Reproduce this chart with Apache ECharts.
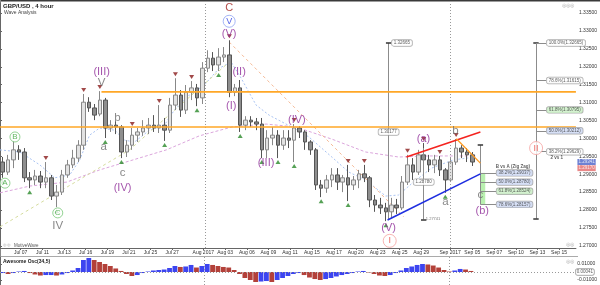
<!DOCTYPE html>
<html><head><meta charset="utf-8">
<script src="https://cdn.jsdelivr.net/npm/echarts@6/dist/echarts.min.js"></script>
<style>html,body{margin:0;padding:0;background:#fff}#c{width:600px;height:285px}</style>
</head><body><div id="c"></div>
<script>
// ---------- DATA ----------
// 12-hour slots (x = slot index); candle = [open, close, low, high]
const candles = [
[1.2934,1.2906,1.2890,1.2948],[1.2906,1.2940,1.2898,1.2954],[1.2940,1.2968,1.2917,1.2993],[1.2968,1.2962,1.2940,1.2981],
[1.2962,1.2890,1.2878,1.2973],[1.2890,1.2884,1.2861,1.2906],[1.2884,1.2895,1.2870,1.2912],[1.2895,1.2878,1.2861,1.2909],
[1.2878,1.2890,1.2861,1.2934],[1.2890,1.2839,1.2828,1.2898],[1.2839,1.2850,1.2808,1.2870],[1.2850,1.2898,1.2842,1.2912],
[1.2898,1.2926,1.2890,1.2940],[1.2926,1.2945,1.2917,1.2968],[1.2945,1.2981,1.2934,1.2995],[1.2981,1.3101,1.2968,1.3124],
[1.3101,1.3085,1.3074,1.3115],[1.3085,1.3065,1.3051,1.3096],[1.3068,1.3107,1.3062,1.3132],[1.3107,1.3029,1.3001,1.3113],
[1.3029,1.3037,1.3018,1.3051],[1.3037,1.3032,1.3012,1.3048],[1.3032,1.2962,1.2945,1.3037],[1.2962,1.2981,1.2948,1.2995],
[1.2981,1.3009,1.2968,1.3029],[1.3009,1.3018,1.2990,1.3029],[1.3018,1.3029,1.3007,1.3051],[1.3029,1.3037,1.3012,1.3057],
[1.3037,1.3029,1.3018,1.3065],[1.3029,1.3037,1.3015,1.3093],[1.3037,1.3023,1.2993,1.3057],[1.3023,1.3093,1.3015,1.3113],
[1.3093,1.3121,1.3079,1.3168],[1.3121,1.3079,1.3060,1.3135],[1.3079,1.3129,1.3068,1.3149],[1.3129,1.3141,1.3107,1.3160],
[1.3141,1.3113,1.3090,1.3152],[1.3113,1.3196,1.3096,1.3213],[1.3196,1.3224,1.3185,1.3246],[1.3224,1.3205,1.3188,1.3241],
[1.3205,1.3227,1.3188,1.3252],[1.3227,1.3233,1.3213,1.3255],[1.3233,1.3129,1.3115,1.3274],[1.3129,1.3141,1.3118,1.3152],
[1.3141,1.3037,1.3018,1.3163],[1.3037,1.3051,1.3023,1.3062],[1.3051,1.3046,1.3032,1.3062],[1.3046,1.3040,1.3023,1.3057],
[1.3040,1.2968,1.2945,1.3057],[1.2968,1.3001,1.2945,1.3023],[1.3001,1.3009,1.2981,1.3032],[1.3009,1.2981,1.2945,1.3023],
[1.2981,1.3001,1.2968,1.3023],[1.3001,1.2995,1.2973,1.3023],[1.2995,1.3029,1.2934,1.3040],[1.3029,1.3018,1.3001,1.3034],
[1.3018,1.2990,1.2968,1.3023],[1.2990,1.2968,1.2954,1.2995],[1.2968,1.2870,1.2856,1.2973],[1.2870,1.2861,1.2836,1.2884],
[1.2861,1.2884,1.2848,1.2898],[1.2884,1.2898,1.2864,1.2917],[1.2898,1.2878,1.2856,1.2917],[1.2878,1.2890,1.2850,1.2898],
[1.2890,1.2870,1.2825,1.2926],[1.2870,1.2884,1.2856,1.2895],[1.2884,1.2901,1.2861,1.2912],[1.2901,1.2890,1.2878,1.2926],
[1.2890,1.2828,1.2808,1.2895],[1.2828,1.2814,1.2795,1.2842],[1.2814,1.2806,1.2789,1.2834],[1.2806,1.2795,1.2769,1.2820],
[1.2795,1.2814,1.2778,1.2834],[1.2814,1.2806,1.2789,1.2831],[1.2806,1.2878,1.2800,1.2895],[1.2878,1.2926,1.2870,1.2954],
[1.2926,1.2906,1.2884,1.2945],[1.2906,1.2954,1.2898,1.2968],[1.2954,1.2940,1.2926,1.2987],[1.2940,1.2926,1.2906,1.2954],
[1.2926,1.2940,1.2903,1.2954],[1.2940,1.2912,1.2895,1.2951],[1.2912,1.2884,1.2848,1.2917],[1.2884,1.2934,1.2878,1.2945],
[1.2934,1.2973,1.2926,1.2998],[1.2973,1.2962,1.2945,1.2981],[1.2962,1.2954,1.2934,1.2973],[1.2954,1.2934,1.2923,1.2962]
];
const swingHighIdx = [8,15,18,24,29,32,35,42,54,64,67,75,78,81,84];
const swingLowIdx = [0,5,10,19,22,30,36,40,44,48,51,54,59,64,71,82];

const maFast = [[0,1.2968],[3.69,1.2962],[7.38,1.2926],[10.15,1.2890],[12.92,1.2898],[14.77,1.2940],[16.6,1.3009],[18.46,1.3029],
[21.23,1.3023],[23.08,1.2995],[24.92,1.2990],[27.69,1.3023],[30.46,1.3037],[32.3,1.3079],[35.08,1.3121],[37.85,1.3149],[40.6,1.3196],
[42.83,1.3213],[44.68,1.3168],[47.45,1.3093],[49.85,1.3065],[52.25,1.3046],[55.38,1.3021],[57.23,1.3004],[61.48,1.2948],[64.6,1.2906],
[67.75,1.2884],[71.45,1.2839],[73.85,1.2842],[76.6,1.2878],[79.94,1.2917],[84.0,1.2940],[88.06,1.2948]];
const maSlow = [[0,1.2848],[5.54,1.2867],[12.37,1.2878],[18.46,1.2912],[24.0,1.2937],[30.83,1.2968],[36.92,1.3007],[43.0,1.3032],
[49.3,1.3040],[54.83,1.3032],[61.48,1.2998],[67.75,1.2962],[73.85,1.2948],[79.4,1.2951],[88.06,1.2951]];

const aoValues = [-0.0013,-0.0025,-0.0013,0.0006,0.0013,-0.0013,-0.0031,-0.0044,-0.0038,-0.0038,
-0.0044,-0.0031,-0.0013,0.0019,0.005,0.015,0.0175,0.015,0.0125,0.01,
0.0075,0.0044,0.0013,-0.0025,-0.005,-0.0038,-0.0013,0.0006,0.0019,0.0025,
0.0031,0.005,0.0075,0.0063,0.0069,0.0088,0.0056,0.0075,0.01,0.0088,
0.0075,0.0063,0.0056,0.0025,-0.0025,-0.0075,-0.01,-0.0125,-0.0119,-0.0113,
-0.0125,-0.01,-0.0075,-0.005,-0.0025,-0.0013,-0.0038,-0.0069,-0.0088,-0.01,
-0.0088,-0.0075,-0.0056,-0.0038,-0.0025,-0.0013,0.0006,0.0013,-0.0006,-0.0025,
-0.0044,-0.005,-0.0038,-0.0013,0.0019,0.005,0.0069,0.0088,0.01,0.0094,
0.0081,0.0056,0.0025,0.0006,0.0019,0.0038,0.0031,0.0013];

const priceTicks = [1.27,1.275,1.28,1.285,1.29,1.295,1.30,1.305,1.31,1.315,1.32,1.325,1.33,1.335];
const aoTicks = [0.01,-0.01];
const xTickSlots = [3.82,7.88,11.87,15.88,19.88,23.87,27.88,31.88,37.66,41.72,45.73,49.72,53.72,57.78,61.85,65.91,69.97,74.03,78.03,83.39,87.5,91.57,95.58,99.56,103.57];
const xTickLabels = ['Jul 07','Jul 11','Jul 13','Jul 16','Jul 19','Jul 21','Jul 25','Jul 27','Aug 2017','Aug 03','Aug 06','Aug 09','Aug 11','Aug 15','Aug 17','Aug 20','Aug 23','Aug 25','Aug 29','Sep 2017','Sep 05','Sep 07','Sep 10','Sep 13','Sep 15'];
const monthStarts = [37.95,83.45];

const resistanceLevels = [1.3130,1.3032];
const resistanceFrom = [18.8,0];
const trendRed = [[75.3,1.2948],[89.0,1.3018]];
const trendBlue = [[71.8,1.2772],[89.0,1.2901]];
const trendOrange = [[84.55,1.2999],[89.0,1.2931]];
const trendSalmon = [[42.46,1.3269],[74.8,1.2781]];
const trendYellow = [[0,1.2753],[24.0,1.2968],[42.46,1.3213]];

const fibMainLevels = ['100.0%','78.6%','61.8%','50.0%','38.2%'];
const fibMainPrices = [1.32665,1.31615,1.30795,1.30212,1.29629];
const fibMainBase = 1.27759;
const fibBvALevels = ['38.2%','50.0%','61.8%','78.6%'];
const fibBvAPrices = [1.29037,1.28780,1.28524,1.28157];
const fibBvATop = 1.2981;
const measure1 = {top:1.32665, bottom:1.2772, mid:1.30177};
const measure2 = {top:1.2973, bottom:1.27741, mid:1.28780};
const lastBid = 1.29341, lastAsk = 1.29170, aoLast = 0.00041;

const waveLabels = [
['C',42.46,1.3364,'r'],['V',42.46,1.3327,'bc'],['(V)',42.46,1.3291,'p'],
['(III)',18.83,1.3185,'p'],['V',18.83,1.3154,'g'],['b',21.78,1.3057,'g'],['a',19.2,1.2976,'g'],['c',22.7,1.2903,'g'],['(IV)',22.7,1.2861,'p'],
['B',2.77,1.3004,'gc'],['A',0.92,1.2875,'gc'],['C',10.7,1.2792,'gc'],['IV',10.7,1.2755,'g'],
['(I)',42.83,1.3090,'p'],['(II)',44.3,1.3185,'p'],['(III)',49.3,1.2931,'p'],['(IV)',55.0,1.3051,'p'],['(V)',72.0,1.2750,'p'],['I',72.2,1.2714,'rc'],
['(a)',78.46,1.2998,'p'],['b',84.37,1.3021,'g'],['a',82.52,1.2822,'g'],['c',88.98,1.2842,'g'],['(b)',89.35,1.2797,'p'],['II',99.32,1.2973,'rc']
];

// ---------- CHART ----------
const FONT = 'Liberation Sans, Arial, sans-serif';
const X_MAX = 106.7;
const chart = echarts.init(document.getElementById('c'));

const styles = {
  p:{color:'#8e2c99',size:11,sym:1,border:null},
  g:{color:'#6a6a6a',size:11.5,sym:1,border:null},
  r:{color:'#a3231f',size:11,sym:1,border:null},
  bc:{color:'#2336e0',size:9,sym:12,border:'#8ea4f5'},
  gc:{color:'#3aa43a',size:8,sym:10,border:'#78c878'},
  rc:{color:'#e8403a',size:9,sym:13,border:'#f5a3a0'}
};
const waveData = waveLabels.map(w=>{
  const s = styles[w[3]];
  return {value:[w[1],w[2]], symbolSize:s.sym,
    itemStyle:{color:s.border?'#ffffff':'transparent',borderColor:s.border||'transparent',borderWidth:s.border?1:0},
    label:{show:true,position:'inside',formatter:w[0],color:s.color,fontSize:s.size,fontFamily:FONT}};
});

const grey = {color:'#8c8c8c',width:1,type:'solid'};
const dark = {color:'#333',width:1.5,type:'solid'};
function seg(x1,y1,x2,y2,st){return [{coord:[x1,y1],lineStyle:st},{coord:[x2,y2]}];}
const segs = [];
segs.push(seg(99.3,fibMainPrices[0],99.3,fibMainBase,grey));
segs.push(seg(98.8,fibMainPrices[0],99.8,fibMainPrices[0],dark));
segs.push(seg(98.8,fibMainBase,99.8,fibMainBase,dark));
fibMainPrices.forEach(p=>segs.push(seg(99.3,p,101.2,p,grey)));
segs.push(seg(89.0,fibBvATop,89.0,fibBvAPrices[3],grey));
segs.push(seg(88.5,fibBvATop,89.5,fibBvATop,dark));
fibBvAPrices.forEach(p=>segs.push(seg(89.0,p,91.9,p,grey)));
segs.push(seg(72.0,measure1.top,72.0,measure1.bottom,grey));
segs.push(seg(71.5,measure1.top,72.5,measure1.top,dark));
segs.push(seg(78.5,measure2.top,78.5,measure2.bottom,grey));
segs.push(seg(78.0,measure2.bottom,79.0,measure2.bottom,dark));

const fills = {w:'#ffffff',g:'#c9efc4',b:'#cdd8f4'};
function box(x,y,text,fill,pos){
  return {value:[x,y],symbolSize:1,itemStyle:{color:'transparent'},
    label:{show:true,position:pos||'right',distance:0,formatter:text,fontSize:4.5,fontFamily:FONT,color:'#333',
      backgroundColor:fill,borderColor:'#9a9a9a',borderWidth:0.7,borderRadius:2,padding:[1,2,0,2]}};
}
const mainFill = ['w','w','g','b','w'];
const bvaFill = ['b','b','g','b'];
const boxData = [];
fibMainPrices.forEach((p,i)=>boxData.push(box(101.2,p,fibMainLevels[i]+'('+p.toFixed(5)+')',fills[mainFill[i]])));
fibBvAPrices.forEach((p,i)=>boxData.push(box(91.9,p,fibBvALevels[i]+'('+p.toFixed(5)+')',fills[bvaFill[i]])));
boxData.push(box(72.5,measure1.top,measure1.top.toFixed(5),'#fff'));
boxData.push(box(72.0,measure1.mid,measure1.mid.toFixed(5),'#fff','inside'));
boxData.push(box(78.5,measure2.mid,measure2.mid.toFixed(5),'#fff','inside'));
const txtData = [
 {value:[91.75,1.2920],symbolSize:1,itemStyle:{color:'transparent'},label:{show:true,position:'right',distance:0,formatter:'B vs A (Zig Zag)',fontSize:4.5,fontWeight:'bold',fontFamily:FONT,color:'#333'}},
 {value:[101.9,1.2945],symbolSize:1,itemStyle:{color:'transparent'},label:{show:true,position:'right',distance:0,formatter:'2 vs 1',fontSize:4.5,fontWeight:'bold',fontFamily:FONT,color:'#333'}},
 {value:[78.8,measure2.bottom],symbolSize:1,itemStyle:{color:'transparent'},label:{show:true,position:'right',distance:0,formatter:measure2.bottom.toFixed(5),fontSize:4,fontFamily:FONT,color:'#555'}}
];

function lineSeries(data,st,z){return {type:'line',xAxisIndex:0,yAxisIndex:0,data:data,symbol:'none',lineStyle:st,silent:true,z:z||3,animation:false};}
const series = [
  lineSeries(maSlow,{color:'#dba6dc',width:1,type:[3,2]},2),
  lineSeries(maFast,{color:'#a9c3f2',width:1,type:[2,2]},2),
  lineSeries(trendYellow,{color:'#d5dc9e',width:1,type:[3,3]},2),
  lineSeries(trendSalmon,{color:'#f6bb98',width:1,type:[3,3]},2),
  {type:'candlestick',xAxisIndex:0,yAxisIndex:0,barWidth:4,z:4,
   data:candles.map((c,i)=>[i+0.5,c[0],c[1],c[2],c[3]]),
   itemStyle:{color:'#e2e2e2',color0:'#8e8e8e',borderColor:'#888888',borderColor0:'#555555',borderWidth:1},
   markLine:{silent:true,symbol:['none','none'],label:{show:false},lineStyle:{color:'#999',type:[1,2],width:1},
     data:monthStarts.map(m=>({xAxis:m}))},
   markArea:{silent:true,itemStyle:{color:'#b9f0b0'},data:[[{coord:[89.05,fibBvAPrices[0]]},{coord:[89.9,fibBvAPrices[3]]}]]}
  },
  lineSeries([[resistanceFrom[0],resistanceLevels[0]],[X_MAX,resistanceLevels[0]]],{color:'#ffa726',width:1.6},5),
  lineSeries([[resistanceFrom[1],resistanceLevels[1]],[X_MAX,resistanceLevels[1]]],{color:'#ffa726',width:1.6},5),
  lineSeries(trendRed,{color:'#f4231f',width:1.6},6),
  lineSeries(trendBlue,{color:'#1f2fe0',width:1.6},6),
  lineSeries(trendOrange,{color:'#ff9a1f',width:1.3},6),
  {type:'line',xAxisIndex:0,yAxisIndex:0,data:[],symbol:'none',silent:true,z:6,
   markLine:{silent:true,symbol:['none','none'],label:{show:false},data:segs}},
  {type:'scatter',xAxisIndex:0,yAxisIndex:0,symbol:'triangle',symbolRotate:180,symbolSize:[5,4],symbolOffset:[0,-4],z:7,
   itemStyle:{color:'#8a1c1c'},data:swingHighIdx.map(i=>[i+0.5,candles[i][3]])},
  {type:'scatter',xAxisIndex:0,yAxisIndex:0,symbol:'triangle',symbolSize:[5,4],symbolOffset:[0,4],z:7,
   itemStyle:{color:'#2b8a2b'},data:swingLowIdx.map(i=>[i+0.5,candles[i][2]])},
  {type:'scatter',xAxisIndex:0,yAxisIndex:0,z:9,clip:false,data:boxData},
  {type:'scatter',xAxisIndex:0,yAxisIndex:0,z:9,clip:false,data:txtData},
  {type:'scatter',xAxisIndex:0,yAxisIndex:0,z:10,clip:false,data:waveData},
  {type:'scatter',xAxisIndex:0,yAxisIndex:0,z:10,clip:false,data:[
    {value:[X_MAX,lastBid],symbolSize:1,itemStyle:{color:'transparent'},label:{show:true,position:'right',distance:1,formatter:lastBid.toFixed(5),fontSize:4.5,fontFamily:FONT,color:'#fff',backgroundColor:'#4a62c8',padding:[1,1,0,1]}},
    {value:[X_MAX,lastAsk],symbolSize:1,itemStyle:{color:'transparent'},label:{show:true,position:'right',distance:1,formatter:lastAsk.toFixed(5),fontSize:4.5,fontFamily:FONT,color:'#fff',backgroundColor:'#e36a6a',padding:[1,1,0,1]}}
  ]},
  {type:'bar',xAxisIndex:1,yAxisIndex:1,barWidth:4.8,
   data:aoValues.map((v,i)=>[i+0.5,v]),
   itemStyle:{color:p=>(p.dataIndex>0&&aoValues[p.dataIndex]<aoValues[p.dataIndex-1])?'#b3413a':'#3d45f0'},
   markLine:{silent:true,symbol:['none','none'],label:{show:false},lineStyle:{color:'#999',type:[1,2],width:1},
     data:monthStarts.map(m=>({xAxis:m})).concat([{yAxis:0}])}},
  {type:'scatter',xAxisIndex:1,yAxisIndex:1,z:10,clip:false,data:[
    {value:[X_MAX,0],symbolSize:1,itemStyle:{color:'transparent'},label:{show:true,position:'right',distance:1,formatter:aoLast.toFixed(5),fontSize:4.5,fontFamily:FONT,color:'#333',backgroundColor:'#fff',borderColor:'#888',borderWidth:0.7,borderRadius:2,padding:[1,1,0,1]}}
  ]}
];

const option = {
  animation:false,
  backgroundColor:'#ffffff',
  grid:[{left:0,right:22,top:3,height:245},{left:0,right:22,top:257,height:28}],
  xAxis:[
    {type:'value',gridIndex:0,min:0,max:X_MAX,splitLine:{show:false},
     axisLine:{show:true,lineStyle:{color:'#666',width:1}},
     axisTick:{show:true,length:2,customValues:xTickSlots,lineStyle:{color:'#666'}},
     axisLabel:{show:true,customValues:xTickSlots,formatter:v=>xTickLabels[xTickSlots.indexOf(v)]||'',fontSize:5,margin:2,color:'#333',fontFamily:FONT}},
    {type:'value',gridIndex:1,min:0,max:X_MAX,splitLine:{show:false},axisLine:{show:false},axisTick:{show:false},axisLabel:{show:false}}
  ],
  yAxis:[
    {type:'value',gridIndex:0,position:'right',min:1.2694,max:1.3378,splitLine:{show:false},
     axisLine:{show:true,lineStyle:{color:'#666',width:1}},
     axisTick:{show:true,length:2,customValues:priceTicks,lineStyle:{color:'#666'}},
     axisLabel:{show:true,customValues:priceTicks,formatter:v=>v.toFixed(5),fontSize:5,margin:3,color:'#333',fontFamily:FONT}},
    {type:'value',gridIndex:1,position:'right',min:-0.01625,max:0.01875,splitLine:{show:false},
     axisLine:{show:true,lineStyle:{color:'#666',width:1}},
     axisTick:{show:true,length:2,customValues:aoTicks,lineStyle:{color:'#666'}},
     axisLabel:{show:true,customValues:aoTicks,formatter:v=>v.toFixed(5),fontSize:5,margin:3,color:'#333',fontFamily:FONT}}
  ],
  graphic:[
    {type:'rect',shape:{x:0,y:0,width:600,height:1.5},style:{fill:'#3a3a3a'},silent:true},
    {type:'rect',shape:{x:0,y:0,width:1,height:285},style:{fill:'#888'},silent:true},
    {type:'line',shape:{x1:0,y1:256.5,x2:578,y2:256.5},style:{stroke:'#aaa',lineWidth:1},silent:true},
    {type:'text',x:3,y:3,style:{text:'GBP/USD , 4 hour',font:'bold 6px '+FONT,fill:'#222'},silent:true},
    {type:'text',x:4,y:10,style:{text:'Wave Analysis',font:'5px '+FONT,fill:'#444'},silent:true},
    {type:'text',x:14,y:243,style:{text:'MotiveWave',font:'4.5px '+FONT,fill:'#555'},silent:true},
    {type:'text',x:3,y:242.5,style:{text:'\u25CE \u25CE',font:'4px '+FONT,fill:'#999'},silent:true},
    {type:'text',x:3,y:259,style:{text:'Awesome Osc(34,5)',font:'bold 5px '+FONT,fill:'#222'},silent:true},
    {type:'text',x:562,y:3,style:{text:'\u25CE\u25CE\u25CE',font:'5px '+FONT,fill:'#aaa'},silent:true},
    {type:'text',x:566,y:242,style:{text:'\u25CE\u25CE',font:'5px '+FONT,fill:'#aaa'},silent:true},
    {type:'text',x:566,y:259,style:{text:'\u25CE\u25CE',font:'5px '+FONT,fill:'#aaa'},silent:true}
  ],
  series:series
};
chart.setOption(option);
</script></body></html>
